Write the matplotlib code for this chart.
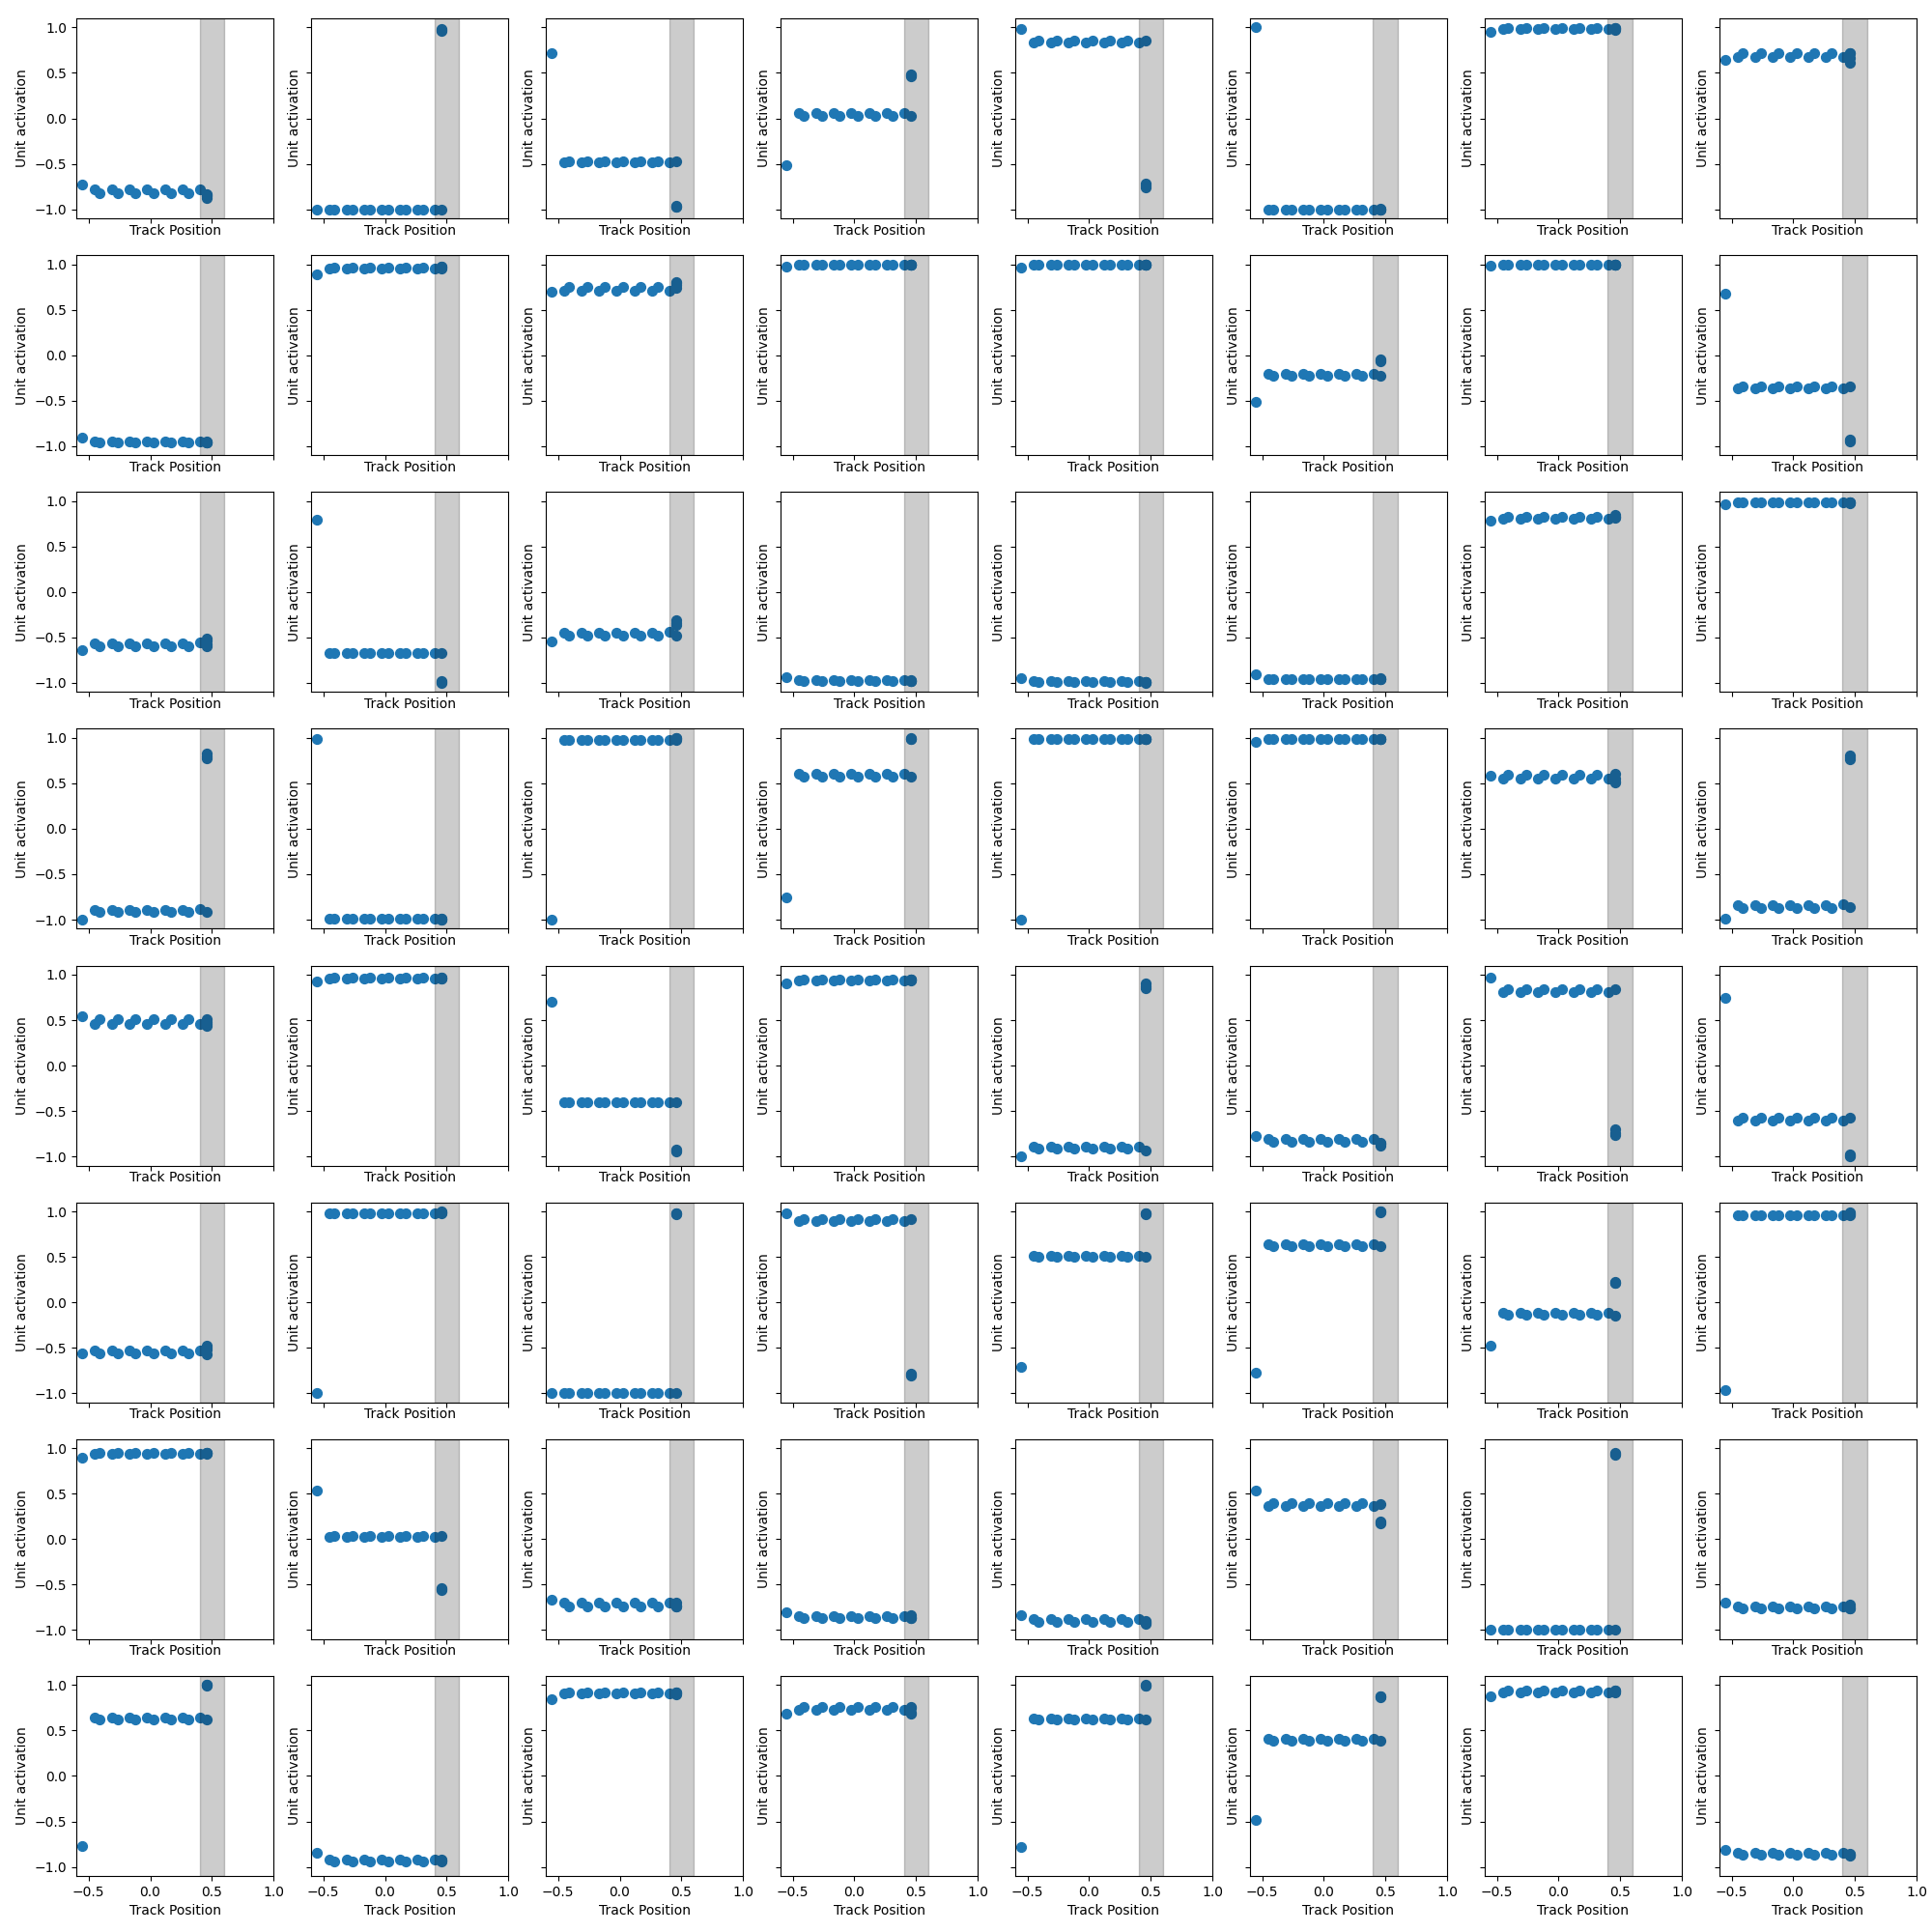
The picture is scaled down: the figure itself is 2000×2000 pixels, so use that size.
import matplotlib
matplotlib.use("Agg")
import matplotlib.pyplot as plt

# Track positions visited (same for every unit); the last samples stay at ~0.455
track_position = [-0.553, -0.453, -0.408, -0.311, -0.262, -0.165, -0.118, -0.024, 0.024,
                  0.118, 0.165, 0.259, 0.306, 0.406, 0.455, 0.455, 0.455, 0.455]

# Unit activations, one list per unit (8 units per row of the grid)
row_1 = [
    [-0.73, -0.78, -0.82, -0.78, -0.82, -0.78, -0.82, -0.78, -0.82, -0.78, -0.82, -0.78, -0.82, -0.78, -0.83, -0.86, -0.88, -0.84],
    [-1.00, -1.00, -1.00, -1.00, -1.00, -1.00, -1.00, -1.00, -1.00, -1.00, -1.00, -1.00, -1.00, -1.00, -1.00, 0.96, 0.98, 0.97],
    [0.72, -0.48, -0.47, -0.48, -0.47, -0.48, -0.47, -0.48, -0.47, -0.48, -0.47, -0.48, -0.47, -0.48, -0.47, -0.97, -0.96, -0.97],
    [-0.52, 0.06, 0.03, 0.06, 0.03, 0.06, 0.03, 0.06, 0.03, 0.06, 0.03, 0.06, 0.03, 0.06, 0.03, 0.47, 0.46, 0.48],
    [0.98, 0.83, 0.86, 0.83, 0.86, 0.83, 0.86, 0.83, 0.86, 0.83, 0.86, 0.83, 0.86, 0.83, 0.86, -0.72, -0.74, -0.76],
    [1.00, -1.00, -1.00, -1.00, -1.00, -1.00, -1.00, -1.00, -1.00, -1.00, -1.00, -1.00, -1.00, -1.00, -1.00, -1.00, -1.00, -0.99],
    [0.95, 0.98, 0.99, 0.98, 0.99, 0.98, 0.99, 0.98, 0.99, 0.98, 0.99, 0.98, 0.99, 0.98, 0.99, 0.98, 0.97, 0.99],
    [0.64, 0.68, 0.72, 0.68, 0.72, 0.68, 0.72, 0.68, 0.72, 0.68, 0.72, 0.68, 0.72, 0.68, 0.72, 0.72, 0.66, 0.61],
]
row_2 = [
    [-0.91, -0.95, -0.96, -0.95, -0.96, -0.95, -0.96, -0.95, -0.96, -0.95, -0.96, -0.95, -0.96, -0.95, -0.96, -0.96, -0.95, -0.96],
    [0.89, 0.95, 0.96, 0.95, 0.96, 0.95, 0.96, 0.95, 0.96, 0.95, 0.96, 0.95, 0.96, 0.95, 0.97, 0.96, 0.97, 0.95],
    [0.70, 0.71, 0.75, 0.71, 0.75, 0.71, 0.75, 0.71, 0.75, 0.71, 0.75, 0.71, 0.75, 0.71, 0.74, 0.77, 0.80, 0.79],
    [0.97, 0.99, 0.99, 0.99, 0.99, 0.99, 0.99, 0.99, 0.99, 0.99, 0.99, 0.99, 0.99, 0.99, 0.99, 0.99, 0.99, 0.99],
    [0.96, 0.99, 0.99, 0.99, 0.99, 0.99, 0.99, 0.99, 0.99, 0.99, 0.99, 0.99, 0.99, 0.99, 0.99, 0.99, 0.99, 0.99],
    [-0.51, -0.21, -0.23, -0.21, -0.23, -0.21, -0.23, -0.21, -0.23, -0.21, -0.23, -0.21, -0.23, -0.21, -0.23, -0.05, -0.07, -0.06],
    [0.98, 0.99, 0.99, 0.99, 0.99, 0.99, 0.99, 0.99, 0.99, 0.99, 0.99, 0.99, 0.99, 0.99, 0.99, 0.99, 0.99, 0.99],
    [0.68, -0.37, -0.34, -0.37, -0.34, -0.37, -0.34, -0.37, -0.34, -0.37, -0.34, -0.37, -0.34, -0.37, -0.34, -0.93, -0.95, -0.94],
]
row_3 = [
    [-0.64, -0.57, -0.60, -0.57, -0.60, -0.57, -0.60, -0.57, -0.60, -0.57, -0.60, -0.57, -0.60, -0.55, -0.60, -0.51, -0.53, -0.58],
    [0.80, -0.67, -0.67, -0.67, -0.67, -0.67, -0.67, -0.67, -0.67, -0.67, -0.67, -0.67, -0.67, -0.67, -0.67, -0.98, -1.00, -0.99],
    [-0.54, -0.45, -0.48, -0.45, -0.48, -0.45, -0.48, -0.45, -0.48, -0.45, -0.48, -0.45, -0.48, -0.44, -0.48, -0.31, -0.36, -0.34],
    [-0.94, -0.97, -0.98, -0.97, -0.98, -0.97, -0.98, -0.97, -0.98, -0.97, -0.98, -0.97, -0.98, -0.97, -0.98, -0.98, -0.98, -0.97],
    [-0.95, -0.98, -0.99, -0.98, -0.99, -0.98, -0.99, -0.98, -0.99, -0.98, -0.99, -0.98, -0.99, -0.98, -0.99, -0.99, -1.00, -0.99],
    [-0.91, -0.96, -0.96, -0.96, -0.96, -0.96, -0.96, -0.96, -0.96, -0.96, -0.96, -0.96, -0.96, -0.96, -0.96, -0.96, -0.95, -0.96],
    [0.78, 0.81, 0.83, 0.81, 0.83, 0.81, 0.83, 0.81, 0.83, 0.81, 0.83, 0.81, 0.83, 0.81, 0.83, 0.85, 0.83, 0.82],
    [0.96, 0.99, 0.99, 0.99, 0.99, 0.99, 0.99, 0.99, 0.99, 0.99, 0.99, 0.99, 0.99, 0.99, 0.99, 0.99, 0.98, 0.99],
]
row_4 = [
    [-1.00, -0.89, -0.91, -0.89, -0.91, -0.89, -0.91, -0.89, -0.91, -0.89, -0.91, -0.89, -0.91, -0.88, -0.91, 0.83, 0.78, 0.80],
    [0.99, -0.99, -0.99, -0.99, -0.99, -0.99, -0.99, -0.99, -0.99, -0.99, -0.99, -0.99, -0.99, -0.99, -0.99, -1.00, -1.00, -0.99],
    [-1.00, 0.98, 0.98, 0.98, 0.98, 0.98, 0.98, 0.98, 0.98, 0.98, 0.98, 0.98, 0.98, 0.98, 0.98, 1.00, 0.99, 1.00],
    [-0.76, 0.60, 0.57, 0.60, 0.57, 0.60, 0.57, 0.60, 0.57, 0.60, 0.57, 0.60, 0.57, 0.60, 0.57, 0.99, 0.99, 1.00],
    [-1.00, 0.99, 0.99, 0.99, 0.99, 0.99, 0.99, 0.99, 0.99, 0.99, 0.99, 0.99, 0.99, 0.99, 0.99, 0.99, 0.99, 0.99],
    [0.96, 0.99, 0.99, 0.99, 0.99, 0.99, 0.99, 0.99, 0.99, 0.99, 0.99, 0.99, 0.99, 0.99, 0.99, 0.99, 0.99, 0.99],
    [0.58, 0.55, 0.59, 0.55, 0.59, 0.55, 0.59, 0.55, 0.59, 0.55, 0.59, 0.55, 0.59, 0.55, 0.60, 0.55, 0.52, 0.51],
    [-0.99, -0.84, -0.87, -0.84, -0.87, -0.84, -0.87, -0.84, -0.87, -0.84, -0.87, -0.84, -0.87, -0.83, -0.86, 0.81, 0.76, 0.79],
]
row_5 = [
    [0.54, 0.46, 0.51, 0.46, 0.51, 0.46, 0.51, 0.46, 0.51, 0.46, 0.51, 0.46, 0.51, 0.46, 0.51, 0.46, 0.44, 0.48],
    [0.92, 0.96, 0.97, 0.96, 0.97, 0.96, 0.97, 0.96, 0.97, 0.96, 0.97, 0.96, 0.97, 0.96, 0.97, 0.96, 0.97, 0.96],
    [0.70, -0.40, -0.40, -0.40, -0.40, -0.40, -0.40, -0.40, -0.40, -0.40, -0.40, -0.40, -0.40, -0.40, -0.40, -0.93, -0.92, -0.94],
    [0.90, 0.94, 0.95, 0.94, 0.95, 0.94, 0.95, 0.94, 0.95, 0.94, 0.95, 0.94, 0.95, 0.94, 0.95, 0.95, 0.94, 0.95],
    [-1.00, -0.89, -0.91, -0.89, -0.91, -0.89, -0.91, -0.89, -0.91, -0.89, -0.91, -0.89, -0.91, -0.89, -0.93, 0.90, 0.85, 0.87],
    [-0.78, -0.81, -0.84, -0.81, -0.84, -0.81, -0.84, -0.81, -0.84, -0.81, -0.84, -0.81, -0.84, -0.81, -0.86, -0.86, -0.88, -0.85],
    [0.97, 0.81, 0.84, 0.81, 0.84, 0.81, 0.84, 0.81, 0.84, 0.81, 0.84, 0.81, 0.84, 0.81, 0.84, -0.70, -0.74, -0.76],
    [0.74, -0.60, -0.57, -0.60, -0.57, -0.60, -0.57, -0.60, -0.57, -0.60, -0.57, -0.60, -0.57, -0.60, -0.57, -0.99, -0.98, -1.00],
]
row_6 = [
    [-0.56, -0.53, -0.56, -0.53, -0.56, -0.53, -0.56, -0.53, -0.56, -0.53, -0.56, -0.53, -0.56, -0.53, -0.57, -0.48, -0.52, -0.50],
    [-1.00, 0.98, 0.98, 0.98, 0.98, 0.98, 0.98, 0.98, 0.98, 0.98, 0.98, 0.98, 0.98, 0.98, 0.98, 0.99, 1.00, 0.99],
    [-1.00, -1.00, -1.00, -1.00, -1.00, -1.00, -1.00, -1.00, -1.00, -1.00, -1.00, -1.00, -1.00, -1.00, -1.00, 0.98, 0.97, 0.98],
    [0.98, 0.90, 0.92, 0.90, 0.92, 0.90, 0.92, 0.90, 0.92, 0.90, 0.92, 0.90, 0.92, 0.90, 0.92, -0.78, -0.81, -0.80],
    [-0.71, 0.51, 0.50, 0.51, 0.50, 0.51, 0.50, 0.51, 0.50, 0.51, 0.50, 0.51, 0.50, 0.51, 0.50, 0.98, 0.97, 0.98],
    [-0.77, 0.64, 0.62, 0.64, 0.62, 0.64, 0.62, 0.64, 0.62, 0.64, 0.62, 0.64, 0.62, 0.64, 0.62, 1.00, 0.99, 1.00],
    [-0.48, -0.11, -0.14, -0.11, -0.14, -0.11, -0.14, -0.11, -0.14, -0.11, -0.14, -0.11, -0.14, -0.12, -0.15, 0.21, 0.22, 0.23],
    [-0.97, 0.96, 0.96, 0.96, 0.96, 0.96, 0.96, 0.96, 0.96, 0.96, 0.96, 0.96, 0.96, 0.96, 0.96, 0.98, 0.99, 0.97],
]
row_7 = [
    [0.90, 0.94, 0.95, 0.94, 0.95, 0.94, 0.95, 0.94, 0.95, 0.94, 0.95, 0.94, 0.95, 0.94, 0.95, 0.95, 0.94, 0.95],
    [0.53, 0.02, 0.04, 0.02, 0.04, 0.02, 0.04, 0.02, 0.04, 0.02, 0.04, 0.02, 0.04, 0.02, 0.04, -0.55, -0.56, -0.54],
    [-0.67, -0.70, -0.74, -0.70, -0.74, -0.70, -0.74, -0.70, -0.74, -0.70, -0.74, -0.70, -0.74, -0.70, -0.74, -0.70, -0.74, -0.73],
    [-0.80, -0.85, -0.87, -0.85, -0.87, -0.85, -0.87, -0.85, -0.87, -0.85, -0.87, -0.85, -0.87, -0.85, -0.87, -0.86, -0.84, -0.87],
    [-0.84, -0.88, -0.91, -0.88, -0.91, -0.88, -0.91, -0.88, -0.91, -0.88, -0.91, -0.88, -0.91, -0.88, -0.91, -0.90, -0.93, -0.92],
    [0.53, 0.37, 0.40, 0.37, 0.40, 0.37, 0.40, 0.37, 0.40, 0.37, 0.40, 0.37, 0.40, 0.37, 0.39, 0.20, 0.18, 0.17],
    [-1.00, -0.99, -0.99, -0.99, -0.99, -0.99, -0.99, -0.99, -0.99, -0.99, -0.99, -0.99, -0.99, -0.99, -0.99, 0.93, 0.95, 0.94],
    [-0.70, -0.74, -0.76, -0.74, -0.76, -0.74, -0.76, -0.74, -0.76, -0.74, -0.76, -0.74, -0.76, -0.74, -0.76, -0.74, -0.72, -0.76],
]
row_8 = [
    [-0.77, 0.64, 0.62, 0.64, 0.62, 0.64, 0.62, 0.64, 0.62, 0.64, 0.62, 0.64, 0.62, 0.64, 0.62, 1.00, 0.99, 1.00],
    [-0.85, -0.92, -0.94, -0.92, -0.94, -0.92, -0.94, -0.92, -0.94, -0.92, -0.94, -0.92, -0.94, -0.92, -0.93, -0.94, -0.92, -0.93],
    [0.84, 0.91, 0.92, 0.91, 0.92, 0.91, 0.92, 0.91, 0.92, 0.91, 0.92, 0.91, 0.92, 0.91, 0.92, 0.91, 0.90, 0.92],
    [0.68, 0.73, 0.76, 0.73, 0.76, 0.73, 0.76, 0.73, 0.76, 0.73, 0.76, 0.73, 0.76, 0.73, 0.76, 0.75, 0.70, 0.68],
    [-0.78, 0.63, 0.62, 0.63, 0.62, 0.63, 0.62, 0.63, 0.62, 0.63, 0.62, 0.63, 0.62, 0.63, 0.62, 0.99, 1.00, 0.99],
    [-0.48, 0.41, 0.39, 0.41, 0.39, 0.41, 0.39, 0.41, 0.39, 0.41, 0.39, 0.41, 0.39, 0.41, 0.39, 0.88, 0.87, 0.88],
    [0.88, 0.92, 0.94, 0.92, 0.94, 0.92, 0.94, 0.92, 0.94, 0.92, 0.94, 0.92, 0.94, 0.92, 0.94, 0.93, 0.94, 0.92],
    [-0.81, -0.85, -0.87, -0.85, -0.87, -0.85, -0.87, -0.85, -0.87, -0.85, -0.87, -0.85, -0.87, -0.85, -0.87, -0.86, -0.88, -0.87],
]
grid_rows = [row_1, row_2, row_3, row_4, row_5, row_6, row_7, row_8]

# Goal region highlighted on each panel
goal_start, goal_end = 0.4, 0.6

x_ticks = [-0.5, 0.0, 0.5, 1.0]
y_ticks = [-1.0, -0.5, 0.0, 0.5, 1.0]

fig, axes = plt.subplots(8, 8, figsize=(20, 20), dpi=100, sharex=True, sharey=True)
fig.subplots_adjust(left=0.0395, right=0.992, bottom=0.029, top=0.9905,
                    wspace=0.191, hspace=0.184)

n_rows = len(grid_rows)
for r, row in enumerate(grid_rows):
    for c, unit in enumerate(row):
        ax = axes[r][c]
        ax.scatter(track_position, unit, s=50, color="C0")
        ax.axvspan(goal_start, goal_end, color="k", alpha=0.2)
        ax.set_xlabel("Track Position", labelpad=4 if r == n_rows - 1 else 0.5)
        ax.set_ylabel("Unit activation")

axes[0][0].set_xlim(-0.6, 1.0)
axes[0][0].set_ylim(-1.1, 1.1)
axes[0][0].set_xticks(x_ticks)
axes[0][0].set_yticks(y_ticks)

fig.savefig("out.png", dpi=100)
